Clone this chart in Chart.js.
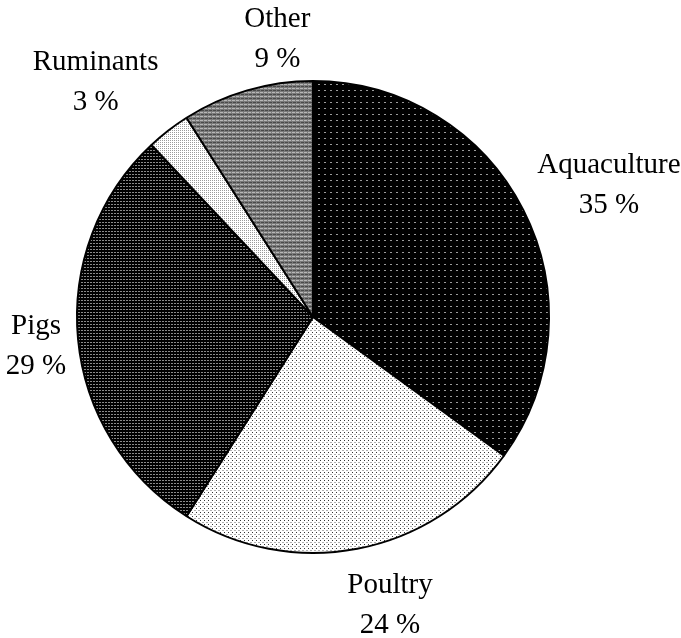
<!DOCTYPE html>
<html>
<head>
<meta charset="utf-8">
<script src="https://cdn.jsdelivr.net/npm/chart.js@4.4.1/dist/chart.umd.min.js"></script>
<style>
  html, body { margin: 0; padding: 0; background: #fff; }
  #chart { display: block; }
</style>
</head>
<body>
<canvas id="chart" width="681" height="638"></canvas>
<script>
// Data
const categories = ['Aquaculture', 'Poultry', 'Pigs', 'Ruminants', 'Other'];
const shares = [35, 24, 29, 3, 9];

// small bitmap fills, like the old print-style hatching
function makePattern(size, bg, dots) {
    const c = document.createElement('canvas');
    c.width = size;
    c.height = size;
    const g = c.getContext('2d');
    g.fillStyle = bg;
    g.fillRect(0, 0, size, size);
    dots.forEach(d => {
        g.fillStyle = d[4];
        g.fillRect(d[0], d[1], d[2], d[3]);
    });
    return g.createPattern(c, 'repeat');
}

const ctx = document.getElementById('chart').getContext('2d');
const fills = [
    makePattern(6, '#000', [[0, 0, 2, 1, '#9a9a9a']]),
    makePattern(4, '#fff', [[0, 0, 1, 1, '#333'], [2, 2, 2, 1, '#b0b0b0']]),
    makePattern(3, '#000', [[0, 0, 2, 1, '#8a8a8a']]),
    makePattern(2, '#fff', [[0, 0, 1, 1, '#9a9a9a']]),
    makePattern(4, '#7a7a7a', [[0, 0, 3, 1, '#b8b8b8'], [1, 2, 3, 1, '#4a4a4a']])
];

// hand nudges so the labels sit where the original placed them
const labelNudge = [[4, 3], [21, -2], [8, 2], [-22, -1], [45, 7]];

// Labels outside the slices, two lines: name and percent
const outsideLabels = {
    id: 'outsideLabels',
    afterDatasetsDraw(chart) {
        const c = chart.ctx;
        const meta = chart.getDatasetMeta(0);
        const lineH = 40;
        const gap = 20;
        c.save();
        c.font = '29px "Liberation Serif", "Times New Roman", serif';
        c.fillStyle = '#000';
        c.textAlign = 'center';
        c.textBaseline = 'middle';
        meta.data.forEach((arc, i) => {
            const mid = (arc.startAngle + arc.endAngle) / 2;
            const dx = Math.cos(mid);
            const dy = Math.sin(mid);
            const r = arc.outerRadius + gap;
            const lines = [categories[i], shares[i] + ' %'];
            const w = Math.max(...lines.map(t => c.measureText(t).width));
            const h = lineH * 2;
            const cx = arc.x + dx * r + dx * w / 2 + labelNudge[i][0];
            const cy = arc.y + dy * r + dy * h / 2 + labelNudge[i][1];
            c.fillText(lines[0], cx, cy - lineH / 2);
            c.fillText(lines[1], cx, cy + lineH / 2);
        });
        c.restore();
    }
};

new Chart(ctx, {
    type: 'pie',
    data: {
        labels: categories,
        datasets: [{
            data: shares,
            backgroundColor: fills,
            borderColor: '#000',
            borderWidth: 2,
            hoverOffset: 0
        }]
    },
    options: {
        responsive: false,
        animation: false,
        events: [],
        layout: {
            padding: { left: 76, right: 131, top: 80, bottom: 84 }
        },
        plugins: {
            legend: { display: false },
            tooltip: { enabled: false }
        }
    },
    plugins: [outsideLabels]
});
</script>
</body>
</html>
